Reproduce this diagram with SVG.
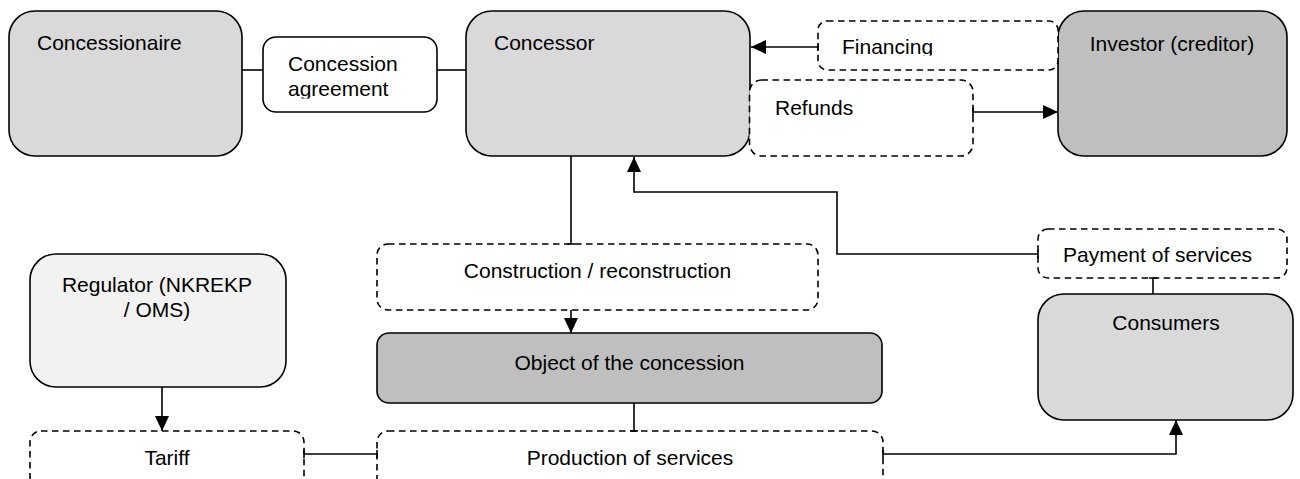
<svg xmlns="http://www.w3.org/2000/svg" width="1300" height="479" viewBox="0 0 1300 479">
<style>
.box{stroke:#000;stroke-width:1.6}
.dash{fill:#fff;stroke:#000;stroke-width:1.6;stroke-dasharray:6.5,4.5}
.t{font-family:"Liberation Sans",Arial,sans-serif;font-size:21px;fill:#000}
.c{text-anchor:middle}
.ln{fill:none;stroke:#000;stroke-width:1.6}
</style>
<defs>
<marker id="ah" markerUnits="userSpaceOnUse" markerWidth="17" markerHeight="15" refX="15" refY="7" orient="auto">
<path d="M0,0 L15,7 L0,14 z" fill="#000"/>
</marker>
<clipPath id="clipFin"><rect x="818" y="21" width="240" height="34.5"/></clipPath>
<clipPath id="clipAgr"><rect x="263" y="37" width="174" height="61.5"/></clipPath>
</defs>

<g id="connectors">
<path class="ln" d="M242,70 H263"/>
<path class="ln" d="M437,70 H466"/>
<path class="ln" d="M818,47 H751" marker-end="url(#ah)"/>
<path class="ln" d="M973,112 H1058" marker-end="url(#ah)"/>
<path class="ln" d="M571,156 V244"/>
<path class="ln" d="M571,310 V333" marker-end="url(#ah)"/>
<path class="ln" d="M634,403 V431"/>
<path class="ln" d="M162,387 V431" marker-end="url(#ah)"/>
<path class="ln" d="M304,454 H377"/>
<path class="ln" d="M883,454 H1176 V420" marker-end="url(#ah)"/>
<path class="ln" d="M1038,254 H837 V192 H634 V157" marker-end="url(#ah)"/>
<path class="ln" d="M1153,278 V294"/>
</g>

<g id="concessionaire">
<rect class="box" x="9" y="11" width="233" height="145" rx="26" fill="#d9d9d9"/>
<text class="t" x="37" y="50">Concessionaire</text>
</g>

<g id="agreement">
<rect class="box" x="263" y="37" width="174" height="75" rx="13" fill="#fff"/>
<g clip-path="url(#clipAgr)">
<text class="t" x="288" y="71">Concession</text>
<text class="t" x="288" y="96">agreement</text>
</g>
</g>

<g id="concessor">
<rect class="box" x="466" y="11" width="284" height="145" rx="26" fill="#d9d9d9"/>
<text class="t" x="494" y="50">Concessor</text>
</g>

<g id="investor">
<rect class="box" x="1058" y="11" width="229" height="145" rx="26" fill="#bfbfbf"/>
<text class="t c" x="1172" y="51">Investor (creditor)</text>
</g>

<g id="financing">
<rect class="dash" x="818" y="21" width="240" height="49" rx="9"/>
<text class="t" x="842" y="54" clip-path="url(#clipFin)">Financing</text>
</g>

<g id="refunds">
<rect class="dash" x="749.5" y="80" width="223.5" height="76" rx="12"/>
<text class="t" x="775" y="115">Refunds</text>
</g>

<g id="regulator">
<rect class="box" x="30" y="254" width="256" height="133" rx="26" fill="#f2f2f2"/>
<text class="t c" x="157" y="292">Regulator (NKREKP</text>
<text class="t c" x="157" y="317">/ OMS)</text>
</g>

<g id="construction">
<rect class="dash" x="377" y="244" width="441" height="66" rx="11"/>
<text class="t c" x="597.5" y="278">Construction / reconstruction</text>
</g>

<g id="object">
<rect class="box" x="377" y="333" width="505" height="70" rx="12" fill="#bfbfbf"/>
<text class="t c" x="629.5" y="370">Object of the concession</text>
</g>

<g id="tariff">
<rect class="dash" x="30" y="431" width="274" height="60" rx="11"/>
<text class="t c" x="167" y="465">Tariff</text>
</g>

<g id="production">
<rect class="dash" x="377" y="431" width="506" height="60" rx="11"/>
<text class="t c" x="630" y="465">Production of services</text>
</g>

<g id="payment">
<rect class="dash" x="1038" y="229" width="249" height="49" rx="10"/>
<text class="t" x="1063" y="262">Payment of services</text>
</g>

<g id="consumers">
<rect class="box" x="1038" y="294" width="255" height="126" rx="26" fill="#d9d9d9"/>
<text class="t c" x="1166" y="330">Consumers</text>
</g>

<g id="ticks">
<path class="ln" d="M818,43 V51 M973,108 V116 M304,450 V458 M377,450 V458 M883,450 V458 M1038,250 V258 M567,244 H575 M630,431 H638 M1149,278 H1157"/>
</g>
</svg>
